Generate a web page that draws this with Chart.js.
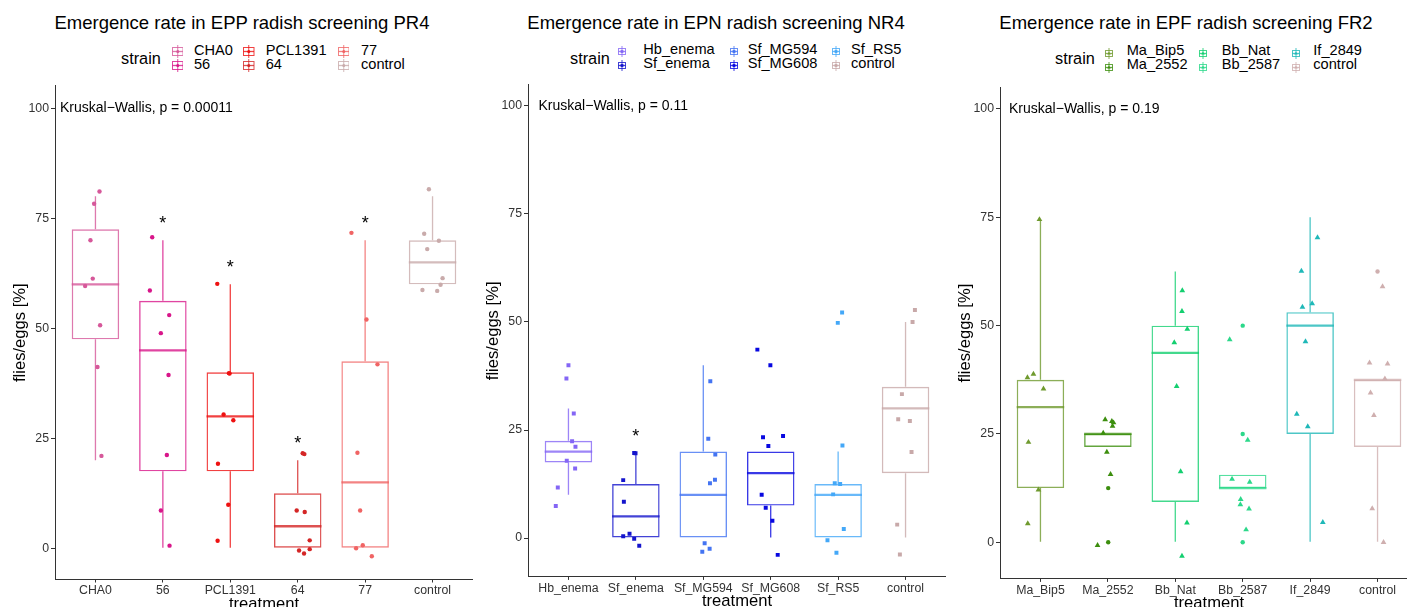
<!DOCTYPE html>
<html><head><meta charset="utf-8">
<script src="https://cdn.jsdelivr.net/npm/chart.js@4.4.1/dist/chart.umd.min.js"></script>
<style>
html,body{margin:0;padding:0;background:#fff;overflow:hidden;width:1407px;height:607px;font-family:"Liberation Sans",Arial,Helvetica,sans-serif;}
.txt{position:absolute;white-space:nowrap;line-height:1;color:#000;}
.glyph{position:absolute;}
</style></head><body>
<script>
// ---------- DATA ----------
const P1_TITLE = 'Emergence rate in EPP radish screening PR4';
const P1_CATEGORIES = ['CHA0','56','PCL1391','64','77','control'];
const P1_LOWER  = [20, 0, 0, 0, 0, 60];
const P1_Q1     = [47.5, 17.5, 17.5, 0, 0, 60];
const P1_MEDIAN = [60, 45, 30, 5, 15, 65];
const P1_Q3     = [72.5, 56.25, 40, 12.5, 42.5, 70];
const P1_UPPER  = [80, 70, 60, 20, 70, 80];
const P1_SIG    = ['', '*', '*', '*', '*', ''];
const P1_KW     = 'Kruskal\u2212Wallis, p = 0.00011';
const P1_POINTS = [
  [81.1, 78.3, 70, 61.3, 59.6, 50.7, 41.2, 21],
  [70.7, 58.6, 53, 48.9, 39.4, 21.2, 8.6, 0.6],
  [60.1, 39.8, 39.7, 30.4, 29.1, 19.2, 9.9, 1.7],
  [21.6, 21.4, 8.6, 8.25, 1.8, -0.5, -0.2, -1.2],
  [71.7, 52, 41.8, 21.7, 8.6, 0.7, 0, -1.8],
  [81.6, 71.5, 69.9, 68, 61.4, 59.9, 58.7, 58.5]
];
const P1_JITTER = [
  [0.06, -0.02, -0.074, -0.04, -0.153, 0.069, 0.03, 0.089],
  [-0.158, -0.193, 0.094, -0.03, 0.084, 0.059, -0.03, 0.099],
  [-0.193, -0.02, -0.01, -0.099, 0.045, -0.183, -0.03, -0.188],
  [0.074, 0.099, -0.015, 0.104, 0.178, 0.02, 0.178, 0.094],
  [-0.203, 0.02, 0.183, -0.114, -0.074, -0.035, -0.134, 0.099],
  [-0.054, -0.124, 0.094, -0.079, 0.149, 0.119, -0.15, 0.069]
];

const P2_TITLE = 'Emergence rate in EPN radish screening NR4';
const P2_CATEGORIES = ['Hb_enema','Sf_enema','Sf_MG594','Sf_MG608','Sf_RS5','control'];
const P2_LOWER  = [10, 0, 0, 0, 0, 0];
const P2_Q1     = [17.5, 0, 0, 7.5, 0, 15];
const P2_MEDIAN = [20, 5, 10, 15, 10, 30];
const P2_Q3     = [22.5, 12.5, 20, 20, 12.5, 35];
const P2_UPPER  = [30, 19.6, 40, 20, 20, 50];
const P2_SIG    = ['', '*', '', '', '', ''];
const P2_KW     = 'Kruskal\u2212Wallis, p = 0.11';
const P2_POINTS = [
  [40, 36.9, 28.8, 22.4, 21.1, 17.9, 16.1, 11.7, 7.4],
  [19.7, 19.6, 13.4, 8.4, 1.0, 0.4, -0.2, -1.8],
  [36.3, 23, 19.3, 13.5, 12.7, -1.2, -2.5, -3.2],
  [43.6, 40, 23.6, 23.3, 21.3, 10, 7.0, 4.0, -3.9],
  [52.2, 49.8, 21.4, 12.7, 12.5, 10.1, 2.1, -0.5, -3.4],
  [52.8, 50, 33.3, 27.5, 27.1, 19.9, 3.1, -3.8]
];
const P2_JITTER = [
  [0, -0.03, 0.079, 0.054, 0.104, -0.025, 0.099, -0.158, -0.188],
  [-0.025, -0.005, -0.188, -0.178, -0.094, -0.188, -0.025, 0.05],
  [0.104, 0.074, 0.178, 0.173, 0.099, 0.02, 0.094, -0.015],
  [-0.198, -0.005, 0.183, -0.114, -0.035, -0.134, -0.074, 0.025, 0.104],
  [0.059, -0.005, 0.064, -0.05, 0.03, -0.074, 0.084, -0.158, -0.025],
  [0.139, 0.104, -0.054, -0.109, 0.064, 0.089, -0.124, -0.084]
];

const P3_TITLE = 'Emergence rate in EPF radish screening FR2';
const P3_CATEGORIES = ['Ma_Bip5','Ma_2552','Bb_Nat','Bb_2587','If_2849','control'];
const P3_LOWER  = [0, 22, 0, 12.5, 0, 0];
const P3_Q1     = [12.5, 22, 9.3, 12.5, 25, 22];
const P3_MEDIAN = [31.2, 25, 43.7, 12.5, 50, 37.5];
const P3_Q3     = [37.5, 25, 50, 15.6, 53.1, 37.5];
const P3_UPPER  = [74.5, 25, 62.5, 15.6, 75, 37.5];
const P3_SIG    = ['', '', '', '', '', ''];
const P3_KW     = 'Kruskal\u2212Wallis, p = 0.19';
const P3_POINTS = [
  [74.5, 38.8, 38, 35.4, 23.1, 12.1, 4.3],
  [28.3, 27.9, 27.6, 26.8, 25.2, 20.8, 15.7, 12.5, 0, -0.7],
  [58.1, 53.3, 49.2, 46.1, 36, 16.3, 4.5, -3.2],
  [50, 46.8, 25, 23.6, 14.6, 13.9, 9.9, 8.7, 7.7, 2.9, 0],
  [70.3, 62.6, 55.1, 54.3, 46.3, 29.6, 26.7, 4.6],
  [62.5, 59, 41.4, 41.2, 37.7, 34.5, 29.3, 7.8, 0]
];
const P3_JITTER = [
  [-0.015, -0.104, -0.193, 0.045, -0.178, -0.03, -0.188],
  [-0.04, 0.059, 0.084, 0.069, -0.069, -0.015, 0.04, 0.005, 0.005, -0.153],
  [0.104, 0.099, 0.178, -0.015, 0.02, 0.079, 0.173, 0.099],
  [0, -0.193, 0, 0.074, -0.158, 0.104, -0.03, -0.035, 0.094, 0.05, 0],
  [0.109, -0.129, 0.03, -0.114, -0.069, -0.198, -0.035, 0.188],
  [0, 0.074, -0.119, 0.149, 0.109, -0.104, -0.054, -0.079, 0.089]
];
const P3_SHAPES = [
  ['t','t','t','t','t','t','t'],
  ['t','t','t','t','t','t','t','c','c','t'],
  ['t','t','t','t','t','t','t','t'],
  ['c','t','c','t','t','t','t','t','t','t','c'],
  ['t','t','t','t','t','t','t','t'],
  ['c','t','t','t','t','t','t','t','t']
];

const Y_TICKS = [0, 25, 50, 75, 100];
const KW_Y = 100;

// ---------- STYLE ----------
const P1_COLORS = ['#d6589a','#d8168a','#ee1111','#d42626','#f06464','#c9abab'];
const P2_COLORS = ['#8466f5','#1414cc','#4474f2','#0808e0','#44a8f8','#c8a9a9'];
const P3_COLORS = ['#6f9a2e','#3c8e0e','#14cf70','#2cd88a','#1fb8b8','#cfafaf'];

const FONT = '"Liberation Sans", Arial, Helvetica, sans-serif';
const CANVAS_TOP = 80, CANVAS_H = 535, Y_AXIS_W = 55;
const BOX_W = 47.5, BOX_LW = 1.4, WHISKER_W = 1.3, MEDIAN_LW = 2.3, BOX_ALPHA = 0.8;
const AXIS_COLOR = '#333333', TICK_COLOR = '#333333';
const STYLE = {c:'circle', s:'rect', t:'triangle'};
const RADIUS = {c:2.2, s:2.8, t:3.3};

function hexA(h, a) {
  const r = parseInt(h.slice(1,3),16), g = parseInt(h.slice(3,5),16), b = parseInt(h.slice(5,7),16);
  return `rgba(${r},${g},${b},${a})`;
}

function addText(txt, left, baseline, size, center) {
  const d = document.createElement('div');
  d.className = 'txt';
  d.textContent = txt;
  d.style.fontSize = size + 'px';
  d.style.top = (baseline - 0.8465 * size) + 'px';
  d.style.left = left + 'px';
  if (center) d.style.transform = 'translateX(-50%)';
  document.body.appendChild(d);
}

function glyphSVG(color, shape, w, h) {
  const bc = hexA(color, BOX_ALPHA);
  const cx = w / 2, cy = h / 2;
  let dot;
  if (shape === 'c') dot = `<circle cx="${cx}" cy="${cy}" r="1.5" fill="${color}"/>`;
  else if (shape === 's') dot = `<rect x="${cx-1.4}" y="${cy-1.4}" width="2.8" height="2.8" fill="${color}"/>`;
  else dot = `<polygon points="${cx},${cy-1.9} ${cx+1.7},${cy+1.1} ${cx-1.7},${cy+1.1}" fill="${color}"/>`;
  return `<svg width="${w}" height="${h}" viewBox="0 0 ${w} ${h}">
    <line x1="${cx}" y1="0" x2="${cx}" y2="${h}" stroke="${bc}" stroke-width="1"/>
    <rect x="0.5" y="2.5" width="${w-1}" height="${h-5}" fill="none" stroke="${bc}" stroke-width="1"/>
    <line x1="0.5" y1="${cy}" x2="${w-0.5}" y2="${cy}" stroke="${bc}" stroke-width="1.3"/>
    ${dot}</svg>`;
}

const annotPlugin = {
  id: 'annot',
  afterDatasetsDraw(chart, args, o) {
    const {ctx} = chart; const x = chart.scales.x, y = chart.scales.y;
    ctx.save();
    ctx.fillStyle = '#000';
    ctx.font = `14px ${FONT}`;
    ctx.textAlign = 'left'; ctx.textBaseline = 'middle';
    ctx.fillText(o.kw, x.getPixelForValue(o.kwX), y.getPixelForValue(KW_Y));
    ctx.font = `18px ${FONT}`;
    ctx.textAlign = 'center';
    o.sig.forEach((s, i) => {
      if (s) ctx.fillText(s, x.getPixelForValue(i + 1), y.getPixelForValue(o.upper[i]) - 16);
    });
    ctx.restore();
  }
};

function drawPanel(p) {
  addText(p.title, p.titleX, 29.3, 18.5, true);
  addText('strain', p.lg.strainX, 63.6, 16.3, false);
  p.categories.forEach((c, i) => {
    const col = Math.floor(i / 2), row = i % 2;
    addText(c, p.lg.labelX[col], p.lg.rowBase[row], 14.6, false);
    const g = document.createElement('div');
    g.className = 'glyph';
    g.style.left = p.lg.glyphX[col] + 'px';
    g.style.top = (p.lg.rowBase[row] - 5.2 - p.lg.gh / 2) + 'px';
    g.innerHTML = glyphSVG(p.colors[i], p.legendShape, p.lg.gw, p.lg.gh);
    document.body.appendChild(g);
  });

  const cv = document.createElement('canvas');
  cv.width = p.canvasWidth; cv.height = CANVAS_H;
  cv.style.cssText = `position:absolute;left:${p.canvasLeft}px;top:${CANVAS_TOP}px;width:${p.canvasWidth}px;height:${CANVAS_H}px`;
  document.body.appendChild(cv);

  const idx = p.categories.map((_, i) => i + 1);
  const boxCol = p.colors.map(c => hexA(c, BOX_ALPHA));
  const pts = [], ptCol = [], ptStyle = [], ptRad = [];
  p.points.forEach((arr, i) => arr.forEach((v, j) => {
    pts.push({x: i + 1 + p.jitter[i][j], y: v});
    ptCol.push(p.colors[i]);
    const s = p.shapes ? p.shapes[i][j] : p.shape;
    ptStyle.push(STYLE[s]); ptRad.push(RADIUS[s]);
  }));
  const titleFont = {family: FONT, size: 16.6};
  const lh = 16.6 * 1.2;
  new Chart(cv, {
    type: 'scatter',
    plugins: [annotPlugin],
    data: {datasets: [
      {type: 'scatter', data: pts, pointBackgroundColor: ptCol, pointBorderWidth: 0,
       pointRadius: ptRad, pointStyle: ptStyle, order: 0},
      {type: 'scatter', data: idx.map((x, i) => ({x, y: p.median[i]})), pointStyle: 'line',
       pointRadius: BOX_W / 2, pointBorderColor: boxCol, pointBorderWidth: MEDIAN_LW, order: 1},
      {type: 'bar', data: idx.map((x, i) => ({x, y: [p.lower[i], p.q1[i]]})), backgroundColor: boxCol,
       borderWidth: 0, grouped: false, maxBarThickness: WHISKER_W, order: 2},
      {type: 'bar', data: idx.map((x, i) => ({x, y: [p.q3[i], p.upper[i]]})), backgroundColor: boxCol,
       borderWidth: 0, grouped: false, maxBarThickness: WHISKER_W, order: 2},
      {type: 'bar', data: idx.map((x, i) => ({x, y: [p.q1[i], p.q3[i]]})), backgroundColor: 'rgba(0,0,0,0)',
       borderColor: boxCol, borderWidth: BOX_LW, borderSkipped: false, grouped: false, maxBarThickness: BOX_W, order: 3}
    ]},
    options: {
      responsive: false, animation: false, events: [],
      layout: {autoPadding: false, padding: {left: 0, right: 0, top: p.plotTop - CANVAS_TOP, bottom: 0}},
      plugins: {legend: {display: false}, tooltip: {enabled: false},
        annot: {kw: p.kw, kwX: p.kwX, sig: p.sig, upper: p.upper}},
      scales: {
        x: {type: 'linear', min: 0.4, max: 6.6, offset: false,
          afterBuildTicks: s => { s.ticks = idx.map(v => ({value: v})); },
          afterFit: s => { s.height = CANVAS_TOP + CANVAS_H - p.plotBottom; s.paddingLeft = 0; s.paddingRight = 0; },
          ticks: {autoSkip: false, maxRotation: 0, minRotation: 0, padding: 1, color: TICK_COLOR,
            font: {family: FONT, size: 12.3}, callback: v => p.categories[Math.round(v) - 1]},
          grid: {offset: false, drawOnChartArea: false, drawTicks: true, tickLength: 3, color: AXIS_COLOR, lineWidth: 1},
          border: {display: true, color: AXIS_COLOR, width: 1},
          title: {display: true, text: 'treatment', color: '#000', font: titleFont,
            padding: {top: 0, bottom: CANVAS_TOP + CANVAS_H - lh / 2 - (p.plotBottom + 24.5)}}
        },
        y: {type: 'linear', min: p.yMin, max: p.yMax,
          afterBuildTicks: s => { s.ticks = Y_TICKS.map(v => ({value: v})); },
          afterFit: s => { s.width = Y_AXIS_W; s.paddingTop = 0; s.paddingBottom = 0; },
          ticks: {padding: 2, color: TICK_COLOR, font: {family: FONT, size: 12.3}},
          grid: {drawOnChartArea: false, drawTicks: true, tickLength: 4, color: AXIS_COLOR, lineWidth: 1},
          border: {display: true, color: AXIS_COLOR, width: 1},
          title: {display: true, text: 'flies/eggs [%]', color: '#000', font: titleFont,
            padding: {top: 10.5, bottom: 0}}
        }
      }
    }
  });
}

drawPanel({
  title: P1_TITLE, titleX: 242, categories: P1_CATEGORIES, colors: P1_COLORS,
  lower: P1_LOWER, q1: P1_Q1, median: P1_MEDIAN, q3: P1_Q3, upper: P1_UPPER, sig: P1_SIG,
  kw: P1_KW, kwX: 0.474, points: P1_POINTS, jitter: P1_JITTER, shape: 'c', legendShape: 'c',
  canvasLeft: 0, canvasWidth: 473, plotTop: 85.9, plotBottom: 579.5, yMin: -7.1, yMax: 105.1,
  lg: {strainX: 121, glyphX: [171.5, 243, 337.5], labelX: [194, 265.7, 361], rowBase: [55.3, 69.7], gw: 11.5, gh: 13}
});
drawPanel({
  title: P2_TITLE, titleX: 716, categories: P2_CATEGORIES, colors: P2_COLORS,
  lower: P2_LOWER, q1: P2_Q1, median: P2_MEDIAN, q3: P2_Q3, upper: P2_UPPER, sig: P2_SIG,
  kw: P2_KW, kwX: 0.556, points: P2_POINTS, jitter: P2_JITTER, shape: 's', legendShape: 's',
  canvasLeft: 473, canvasWidth: 473, plotTop: 84.8, plotBottom: 576.9, yMin: -9.0, yMax: 104.9,
  lg: {strainX: 570, glyphX: [618, 729.5, 832], labelX: [643.3, 747.7, 851], rowBase: [54, 68], gw: 8, gh: 11}
});
drawPanel({
  title: P3_TITLE, titleX: 1186, categories: P3_CATEGORIES, colors: P3_COLORS,
  lower: P3_LOWER, q1: P3_Q1, median: P3_MEDIAN, q3: P3_Q3, upper: P3_UPPER, sig: P3_SIG,
  kw: P3_KW, kwX: 0.534, points: P3_POINTS, jitter: P3_JITTER, shapes: P3_SHAPES, legendShape: 't',
  canvasLeft: 945, canvasWidth: 473, plotTop: 87.3, plotBottom: 578.9, yMin: -8.45, yMax: 105,
  lg: {strainX: 1055, glyphX: [1104.5, 1198.5, 1292], labelX: [1126.7, 1221.7, 1313.3], rowBase: [55.3, 69.7], gw: 8, gh: 11}
});
</script>
</body></html>
